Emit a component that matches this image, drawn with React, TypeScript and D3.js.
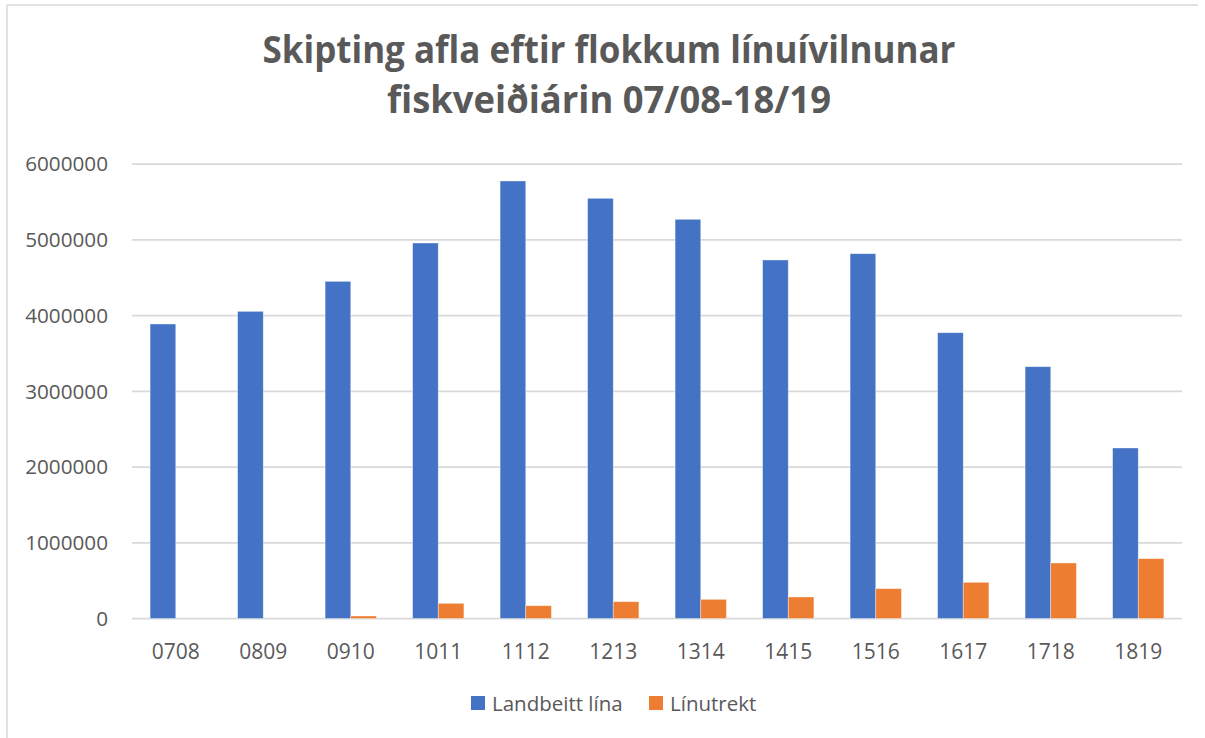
import React from 'react';
import * as d3 from 'd3';

const categories = ['0708', '0809', '0910', '1011', '1112', '1213', '1314', '1415', '1516', '1617', '1718', '1819'];
const seriesNames = ['Landbeitt lína', 'Línutrekt'];
const landbeitt = [3888000, 4055000, 4451000, 4957000, 5776000, 5547000, 5270000, 4733000, 4816000, 3773000, 3324000, 2251000];
const linutrekt = [0, 0, 33000, 200000, 169000, 222000, 253000, 284000, 394000, 478000, 733000, 790000];
const yTicks = [0, 1000000, 2000000, 3000000, 4000000, 5000000, 6000000];
const titleLines = ['Skipting afla eftir flokkum línuívilnunar', 'fiskveiðiárin 07/08-18/19'];
const colors = ['#4472C4', '#ED7D31'];

const W = 1205;
const H = 738;
const font = '"Open Sans", sans-serif';
const textColor = '#595959';

const App: React.FC = () => {
  const left = 132;
  const right = 1182;
  const top = 164;
  const bottom = 618.5;

  const x0 = d3.scaleBand<string>().domain(categories).range([left, right]).padding(0);
  const inner = (x0.bandwidth() - 51.3) / 2;
  const x1 = d3.scaleBand<string>().domain(seriesNames).range([inner, x0.bandwidth() - inner]).padding(0);
  const y = d3.scaleLinear().domain([0, 6000000]).range([bottom, top]);

  const series = [landbeitt, linutrekt];

  return (
    <svg width={W} height={H} style={{ position: 'absolute', left: 0, top: 0, background: '#fff' }}>
      <line x1={7} y1={5} x2={7} y2={H} stroke="#d9d9d9" strokeWidth={1.5} />
      <line x1={7} y1={5} x2={1198} y2={5} stroke="#d9d9d9" strokeWidth={1.5} />

      {titleLines.map((t, i) => (
        <text
          key={t}
          x={609}
          y={63 + i * 50}
          textAnchor="middle"
          fontFamily={font}
          fontWeight={700}
          fontSize={37}
          fill={textColor}
          textLength={i === 0 ? 693 : 444}
          lengthAdjust="spacingAndGlyphs"
        >
          {t}
        </text>
      ))}

      {yTicks.map((t) => (
        <g key={t}>
          <line x1={left} x2={right} y1={y(t)} y2={y(t)} stroke="#d9d9d9" strokeWidth={1.75} />
          <text
            x={108}
            y={y(t)}
            dy="0.36em"
            textAnchor="end"
            fontFamily={font}
            fontSize={20.7}
            fill={textColor}
          >
            {t}
          </text>
        </g>
      ))}

      {categories.map((c, i) => (
        <g key={c} transform={`translate(${x0(c)},0)`}>
          {seriesNames.map((s, j) => {
            const v = series[j][i];
            if (v <= 0) return null;
            return (
              <rect
                key={s}
                x={x1(s)}
                y={y(v)}
                width={x1.bandwidth()}
                height={y(0) - y(v)}
                fill={colors[j]}
                stroke="#fff"
                strokeOpacity={0.5}
                strokeWidth={0.75}
              />
            );
          })}
          <text
            x={x0.bandwidth() / 2}
            y={658.5}
            textAnchor="middle"
            fontFamily={font}
            fontSize={21}
            fill={textColor}
          >
            {c}
          </text>
        </g>
      ))}

      {seriesNames.map((s, j) => {
        const lx = [471, 649][j];
        return (
          <g key={s}>
            <rect x={lx} y={696} width={14} height={14} fill={colors[j]} />
            <text x={lx + 21} y={711} fontFamily={font} fontSize={20.5} fill={textColor}>
              {s}
            </text>
          </g>
        );
      })}
    </svg>
  );
};

export default App;
